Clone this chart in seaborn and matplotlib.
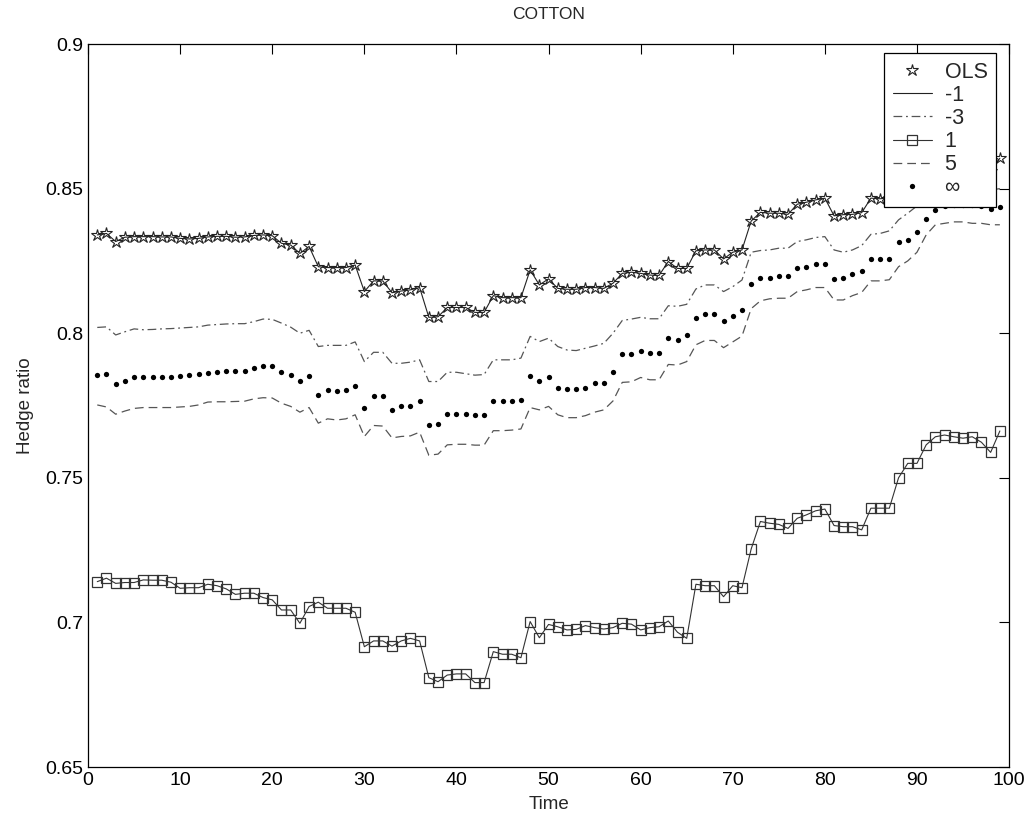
import matplotlib
matplotlib.use("Agg")
import numpy as np
import pandas as pd
import matplotlib.pyplot as plt
import seaborn as sns

# time index 1..99
time = list(range(1, 100))

ols = [0.834, 0.8345, 0.8317, 0.8332, 0.8334, 0.8334, 0.8334, 0.8333, 0.8333, 0.8328,
       0.8326, 0.8328, 0.8333, 0.8335, 0.8335, 0.8332, 0.8333, 0.8338, 0.834, 0.8337,
       0.8311, 0.8305, 0.8276, 0.830, 0.823, 0.8227, 0.8227, 0.8227, 0.8236, 0.8144,
       0.8181, 0.8181, 0.814, 0.8146, 0.815, 0.8158, 0.8055, 0.8057, 0.8089, 0.8089,
       0.8089, 0.8072, 0.8072, 0.813, 0.8123, 0.8123, 0.8123, 0.8219, 0.8167, 0.8188,
       0.8155, 0.8152, 0.8152, 0.8158, 0.8158, 0.8155, 0.8173, 0.8207, 0.8211, 0.8207,
       0.8201, 0.820, 0.8248, 0.8224, 0.8224, 0.8285, 0.8288, 0.8288, 0.8257, 0.828,
       0.8288, 0.8388, 0.8418, 0.8415, 0.8415, 0.8411, 0.8446, 0.8453, 0.8461, 0.8467,
       0.8406, 0.841, 0.8411, 0.8417, 0.8467, 0.8465, 0.8468, 0.853, 0.857, 0.857,
       0.860, 0.862, 0.862, 0.862, 0.861, 0.861, 0.860, 0.856, 0.8605]

# the -1 line runs through the OLS stars
minus_one = list(ols)

minus_three = [0.802, 0.8022, 0.7994, 0.8005, 0.8015, 0.8012, 0.8013, 0.8015, 0.8016, 0.8018,
               0.802, 0.8022, 0.8028, 0.803, 0.8032, 0.8033, 0.8033, 0.804, 0.8049, 0.8048,
               0.8035, 0.8021, 0.800, 0.801, 0.7954, 0.7958, 0.7958, 0.7958, 0.797, 0.7902,
               0.7934, 0.7934, 0.7896, 0.7896, 0.790, 0.7908, 0.7833, 0.7833, 0.7865, 0.7865,
               0.786, 0.7855, 0.7857, 0.7908, 0.7908, 0.7908, 0.7914, 0.7989, 0.7971, 0.7983,
               0.7954, 0.7942, 0.794, 0.7948, 0.7956, 0.7965, 0.800, 0.8044, 0.8049, 0.8055,
               0.805, 0.805, 0.8095, 0.8093, 0.81, 0.8153, 0.8167, 0.8167, 0.8144, 0.8161,
               0.8184, 0.828, 0.8286, 0.8288, 0.8294, 0.8294, 0.8317, 0.8323, 0.8331, 0.8334,
               0.8288, 0.828, 0.8288, 0.8303, 0.8342, 0.8345, 0.8354, 0.8392, 0.8415, 0.844,
               0.847, 0.849, 0.8495, 0.85, 0.85, 0.8498, 0.8498, 0.8495, 0.85]

one = [0.7141, 0.7153, 0.7135, 0.7138, 0.7138, 0.7147, 0.7146, 0.7146, 0.7139, 0.7118,
       0.712, 0.712, 0.7132, 0.7127, 0.7116, 0.7097, 0.7101, 0.7101, 0.7086, 0.7078,
       0.7043, 0.7043, 0.6997, 0.7055, 0.707, 0.7049, 0.7049, 0.7049, 0.7035, 0.6916,
       0.6936, 0.6936, 0.6918, 0.6936, 0.6945, 0.6936, 0.6809, 0.6795, 0.6818, 0.6822,
       0.6822, 0.6792, 0.6792, 0.6899, 0.689, 0.689, 0.6878, 0.7003, 0.6947, 0.6993,
       0.6985, 0.6974, 0.6976, 0.6989, 0.6982, 0.6977, 0.6982, 0.6997, 0.6994, 0.6974,
       0.6982, 0.6985, 0.7005, 0.6966, 0.6945, 0.7132, 0.7127, 0.7127, 0.7089, 0.7127,
       0.712, 0.7254, 0.7349, 0.7343, 0.7339, 0.7325, 0.736, 0.7372, 0.7386, 0.7392,
       0.7335, 0.7331, 0.7331, 0.732, 0.7395, 0.7395, 0.7395, 0.75, 0.755, 0.755,
       0.7614, 0.7642, 0.7648, 0.7642, 0.7637, 0.7642, 0.7623, 0.7588, 0.7662]

five = [0.7752, 0.7745, 0.772, 0.7731, 0.774, 0.7743, 0.7743, 0.7743, 0.7743, 0.7745,
        0.7747, 0.7752, 0.7762, 0.7763, 0.7763, 0.7764, 0.7765, 0.7773, 0.7777, 0.7776,
        0.7758, 0.7747, 0.7727, 0.7743, 0.7689, 0.7704, 0.770, 0.7704, 0.7718, 0.7643,
        0.7681, 0.7679, 0.7638, 0.7643, 0.7645, 0.7658, 0.7578, 0.7582, 0.7614, 0.7616,
        0.7616, 0.7613, 0.7613, 0.7663, 0.7663, 0.7665, 0.7669, 0.7743, 0.7735, 0.7747,
        0.7718, 0.7708, 0.7708, 0.7715, 0.7727, 0.7735, 0.7766, 0.783, 0.7832, 0.7847,
        0.7839, 0.7839, 0.7892, 0.789, 0.7902, 0.796, 0.7975, 0.7975, 0.795, 0.797,
        0.799, 0.8085, 0.8112, 0.8119, 0.8121, 0.8121, 0.8144, 0.815, 0.8158, 0.8158,
        0.8115, 0.8115, 0.813, 0.8141, 0.8181, 0.8181, 0.8185, 0.823, 0.825, 0.828,
        0.834, 0.8375, 0.838, 0.8385, 0.8385, 0.838, 0.838, 0.8375, 0.8375]

infinity = [0.7856, 0.7858, 0.7823, 0.7835, 0.785, 0.7847, 0.785, 0.785, 0.7847, 0.7853,
            0.7857, 0.786, 0.7864, 0.7865, 0.787, 0.787, 0.787, 0.7881, 0.7888, 0.7888,
            0.7865, 0.7857, 0.7835, 0.7853, 0.7787, 0.7804, 0.780, 0.7804, 0.7819, 0.7743,
            0.7783, 0.7783, 0.7736, 0.7747, 0.7747, 0.7764, 0.7681, 0.7686, 0.772, 0.772,
            0.772, 0.7716, 0.7716, 0.7766, 0.7766, 0.7766, 0.777, 0.7853, 0.7835, 0.785,
            0.7812, 0.7807, 0.7807, 0.781, 0.7827, 0.7827, 0.7865, 0.7927, 0.7927, 0.7939,
            0.7931, 0.7931, 0.7983, 0.7977, 0.7994, 0.8051, 0.8065, 0.8065, 0.8042, 0.8059,
            0.808, 0.8169, 0.8192, 0.8192, 0.8199, 0.8197, 0.8224, 0.823, 0.8238, 0.8238,
            0.8186, 0.819, 0.8204, 0.8215, 0.8256, 0.8256, 0.8256, 0.8315, 0.8323, 0.835,
            0.8395, 0.8425, 0.844, 0.8445, 0.8445, 0.8445, 0.844, 0.8428, 0.8436]

x_ticks = list(range(0, 101, 10))
y_ticks = [0.65, 0.7, 0.75, 0.8, 0.85, 0.9]
y_tick_labels = ['0.65', '0.7', '0.75', '0.8', '0.85', '0.9']

df = pd.DataFrame({'Time': time, 'OLS': ols, '-1': minus_one, '-3': minus_three,
                   '1': one, '5': five, 'inf': infinity})

sns.set_style('white')
plt.rcParams['font.family'] = ['Liberation Sans', 'DejaVu Sans']

fig = plt.figure(figsize=(10.36, 8.26), dpi=100)
ax = fig.add_axes([0.085, 0.0714, 0.889, 0.8753])

common = dict(data=df, x='Time', ax=ax, errorbar=None)

sns.lineplot(y='OLS', label='OLS', linestyle='none', marker='*', markersize=9,
             markerfacecolor='none', markeredgecolor='#222222', markeredgewidth=0.8,
             color='#222222', **common)
sns.lineplot(y='-1', label='-1', color='#222222', linewidth=0.8, **common)
sns.lineplot(y='-3', label='-3', color='#555555', linewidth=0.9,
             linestyle=(0, (7, 3, 1.5, 3)), **common)
sns.lineplot(y='1', label='1', color='#333333', linewidth=0.8, marker='s', markersize=7.5,
             markerfacecolor='none', markeredgecolor='#333333', markeredgewidth=0.9, **common)
sns.lineplot(y='5', label='5', color='#555555', linewidth=0.9,
             linestyle=(0, (7, 4)), **common)
sns.lineplot(y='inf', label='\u221e', linestyle='none', marker='o', markersize=3.8,
             markerfacecolor='black', markeredgecolor='black', markeredgewidth=0,
             color='black', **common)

ax.set_xlim(0, 100)
ax.set_ylim(0.65, 0.9)
ax.set_xticks(x_ticks)
ax.set_yticks(y_ticks)
ax.set_yticklabels(y_tick_labels)
ax.tick_params(direction='in', top=True, right=True, length=7, width=0.8,
               labelsize=14, colors='black')
for side in ax.spines.values():
    side.set_color('black')
    side.set_linewidth(0.9)

ax.set_title('COTTON', fontsize=12.5, pad=18)
ax.set_xlabel('Time', fontsize=13.5, labelpad=5)
ax.set_ylabel('Hedge ratio', fontsize=13.5, labelpad=8)

handles, labels = ax.get_legend_handles_labels()
leg = ax.legend(handles, labels, loc='upper right', bbox_to_anchor=(0.986, 0.9876),
                borderaxespad=0, fontsize=15.5, frameon=True, fancybox=False,
                framealpha=1, edgecolor='black', handlelength=1.8,
                handletextpad=0.6, labelspacing=0.1, borderpad=0.4)
leg.get_frame().set_linewidth(0.9)

fig.savefig('out.png', dpi=100)
